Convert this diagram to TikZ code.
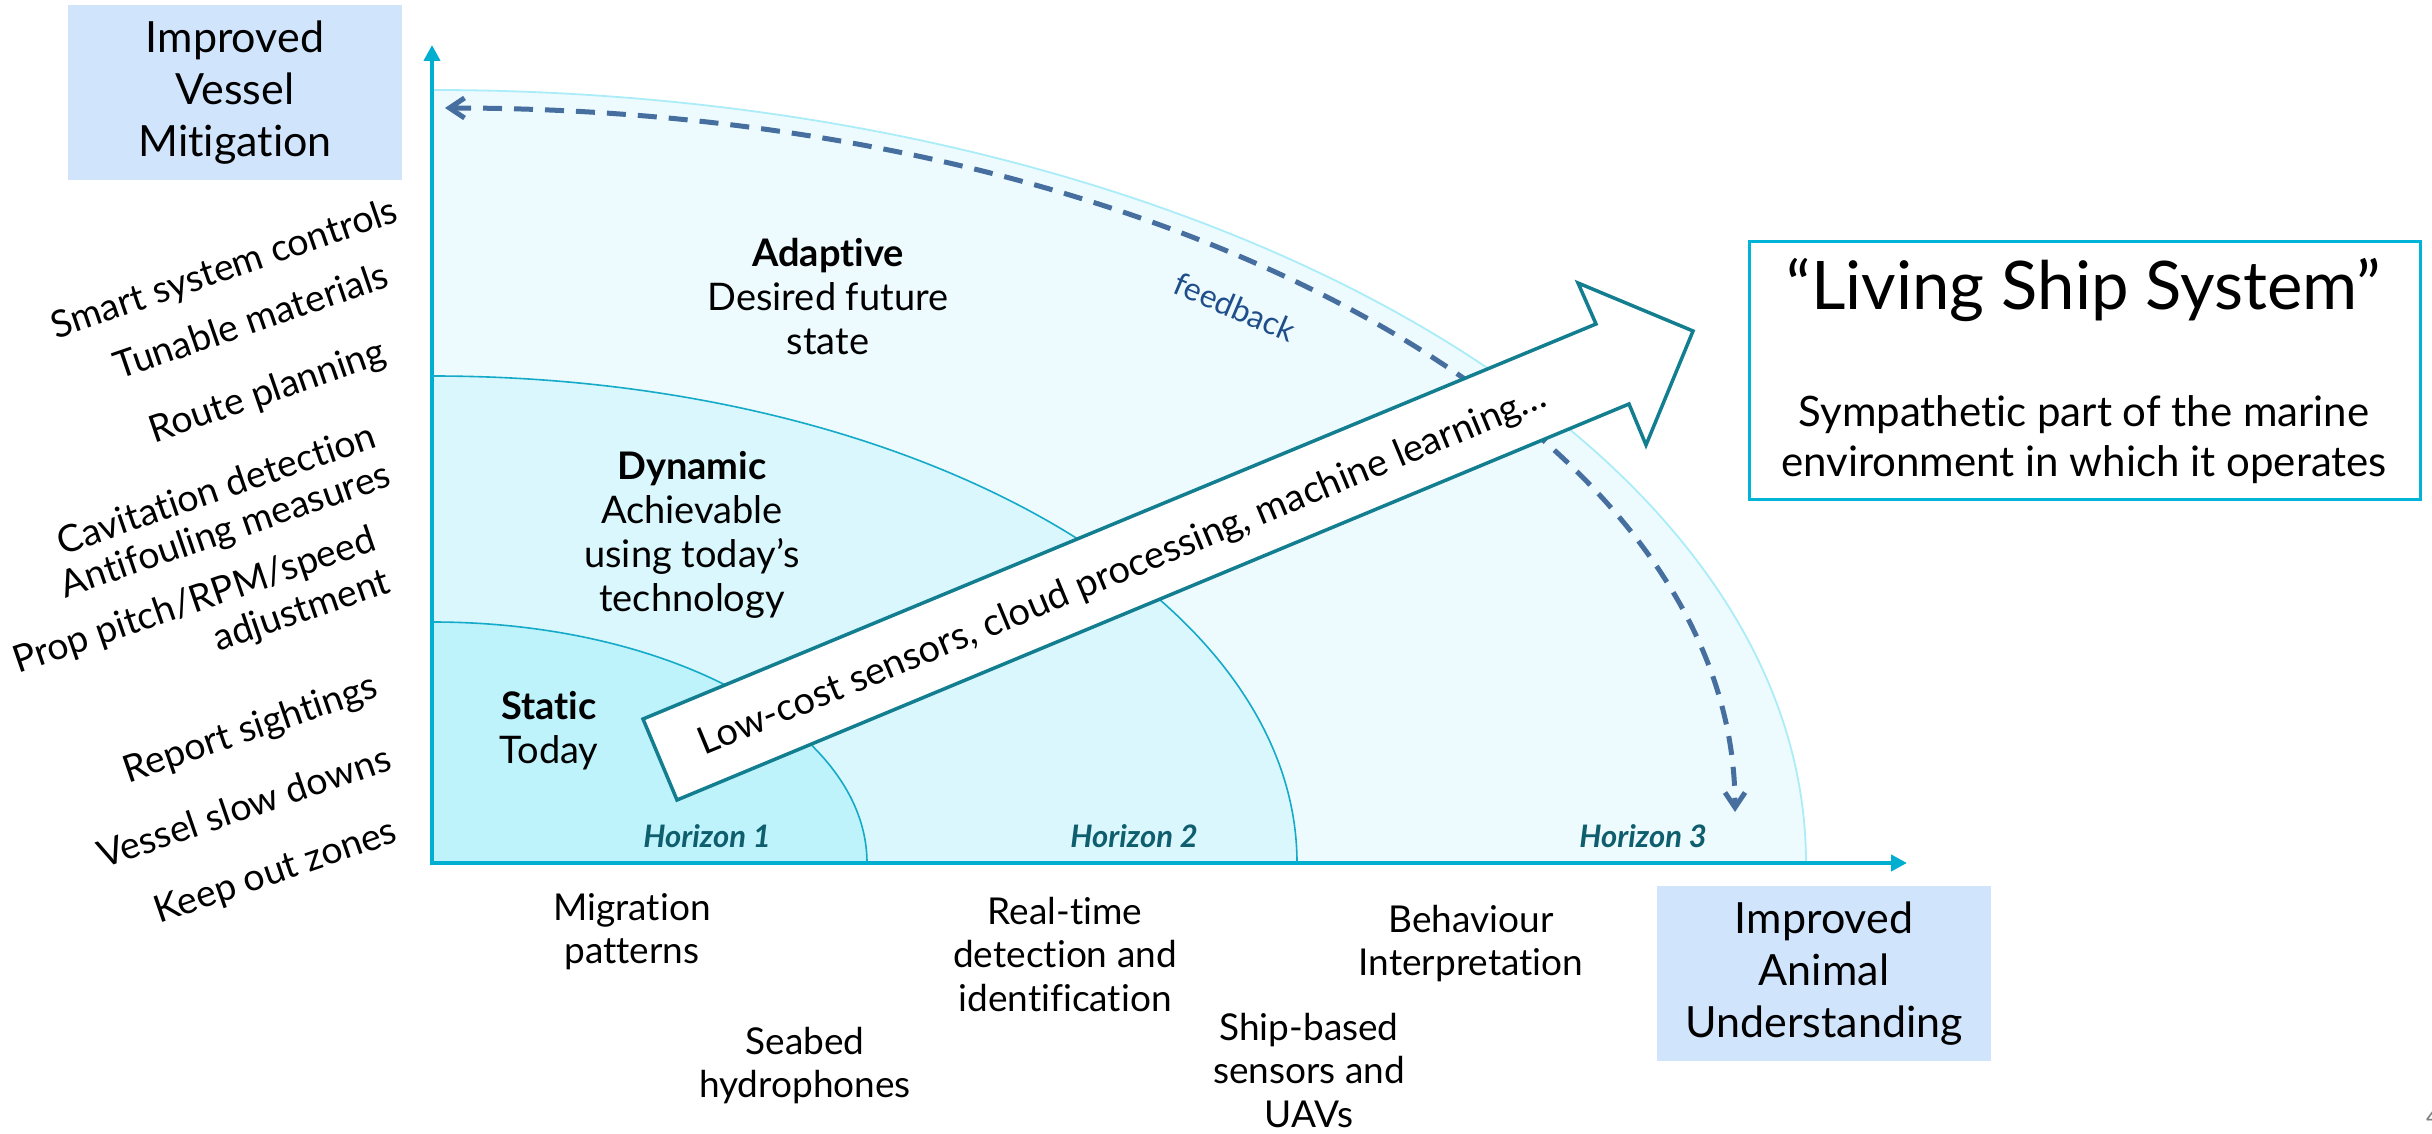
\documentclass[tikz,border=0pt]{standalone}
\usepackage{fontspec}
\setmainfont{Lato}[Ligatures=NoCommon]
\usetikzlibrary{arrows.meta}
\definecolor{axiscol}{RGB}{0,174,207}
\definecolor{fillS}{RGB}{190,243,252}
\definecolor{fillD}{RGB}{218,247,253}
\definecolor{fillA}{RGB}{237,251,254}
\definecolor{arcS}{RGB}{20,170,200}
\definecolor{arcA}{RGB}{170,236,248}
\definecolor{boxblue}{RGB}{208,228,252}
\definecolor{arrowcol}{RGB}{19,126,143}
\definecolor{dashcol}{RGB}{70,110,158}
\definecolor{fbcol}{RGB}{31,78,138}
\definecolor{horcol}{RGB}{14,94,110}
\definecolor{lsscol}{RGB}{0,180,216}
\begin{document}
\begin{tikzpicture}[x=1pt,y=1pt,
  axisline/.style={line width=4.5pt, draw=axiscol, line join=miter,
    {Triangle[length=16pt,width=16pt]}-{Triangle[length=16pt,width=16pt]}},
  zonearc/.style={line width=1.6pt, draw=arcS},
  goalbox/.style={fill=boxblue, minimum width=334pt, minimum height=175pt,
    align=center, inner sep=0pt, font=\fontsize{43}{52}\selectfont},
  mitig/.style={rotate=19, align=right, inner sep=0pt, font=\fontsize{37.5}{44}\selectfont},
  understand/.style={anchor=north, align=center, inner sep=0pt, font=\fontsize{37}{43.5}\selectfont},
  zonetext/.style={anchor=north, align=center, inner sep=0pt, font=\fontsize{38}{44}\selectfont},
  horizon/.style={anchor=base, text=horcol, font=\fontsize{31}{36}\selectfont\bfseries\itshape},
  feedbackline/.style={draw=dashcol, line width=5pt, dash pattern=on 19pt off 12pt,
    {Straight Barb[length=15pt,width=20pt]}-{Straight Barb[length=15pt,width=20pt]}},
  techarrow/.style={draw=arrowcol, fill=white, line width=3.5pt, line join=miter},
  ]
\useasboundingbox (0,0) rectangle (2432,1133);

% axes frame
\coordinate (origin) at (432,270);
\coordinate (ytop) at (432,1088);
\coordinate (xend) at (1907,270);

% the three zones, outermost first
\fill[fillA] (origin) -- (432,1043) arc[start angle=90,end angle=0,x radius=1374pt,y radius=773pt] -- cycle;
\fill[fillD] (origin) -- (432,757) arc[start angle=90,end angle=0,x radius=865pt,y radius=487pt] -- cycle;
\fill[fillS] (origin) -- (432,511) arc[start angle=90,end angle=0,x radius=435pt,y radius=241pt] -- cycle;
\draw[line width=1.8pt, draw=arcA] (432,1043) arc[start angle=90,end angle=0,x radius=1374pt,y radius=773pt];
\draw[zonearc] (432,757) arc[start angle=90,end angle=0,x radius=865pt,y radius=487pt];
\draw[zonearc] (432,511) arc[start angle=90,end angle=0,x radius=435pt,y radius=241pt];

% axes
\draw[axisline] (ytop) -- (origin) -- (xend);

% feedback loop
\coordinate (fbstart) at (445,1025);
\draw[feedbackline] (fbstart) arc[start angle=90,end angle=0,x radius=1290pt,y radius=704pt];
\node[rotate=-23, text=fbcol, font=\fontsize{32}{38}\selectfont] (fb) at (1235,826) {feedback};

% technology arrow
\draw[techarrow] (643,414) -- (1596,809) -- (1578,850) -- (1693,802) -- (1646,688) -- (1629,729) -- (677,333) -- cycle;
\node[rotate=22.5, anchor=base, inner sep=0pt, font=\fontsize{38}{44}\selectfont] (tech) at (1127,552)
  {Low-cost sensors, cloud processing, machine learning…};

% zone labels
\node[zonetext] (adaptive) at (828,895) {\textbf{Adaptive}\\Desired future\\state};
\node[zonetext] (dynamic) at (692,682) {\textbf{Dynamic}\\Achievable\\using today’s\\technology};
\node[zonetext] (static) at (549,442) {\textbf{Static}\\Today};
\node[horizon] (h1) at (707,286) {Horizon 1};
\node[horizon] (h2) at (1134,286) {Horizon 2};
\node[horizon] (h3) at (1643,286) {Horizon 3};

% axis titles
\node[goalbox] (vessel) at (235,1040.5) {Improved\\Vessel\\Mitigation};
\node[goalbox] (animal) at (1824,159.5) {Improved\\Animal\\Understanding};

% goal box
\node[draw=lsscol, line width=3pt, fill=white, minimum width=671pt, minimum height=258pt, inner sep=0pt] (lss) at (2084.5,762) {};
\node[anchor=base, inner sep=0pt, font=\fontsize{67}{78}\selectfont] (lsstitle) at (2084,823) {“Living Ship System”};
\node[anchor=north, align=center, inner sep=0pt, font=\fontsize{42}{50}\selectfont] (lsssub) at (2084,738)
  {Sympathetic part of the marine\\environment in which it operates};

% mitigation measures
\node[mitig] (smart) at (225,863) {Smart system controls};
\node[mitig] (tunable) at (251,813) {Tunable materials};
\node[mitig] (route) at (268,740) {Route planning};
\node[mitig] (cavit) at (216,645) {Cavitation detection};
\node[mitig] (antifoul) at (226,601) {Antifouling measures};
\node[mitig] (prop) at (202,510) {Prop pitch/RPM/speed\\adjustment};
\node[mitig] (report) at (251,403) {Report sightings};
\node[mitig] (slow) at (244,327) {Vessel slow downs};
\node[mitig] (keepout) at (276,260) {Keep out zones};

% understanding measures
\node[understand] (migr) at (632,240) {Migration\\patterns};
\node[understand] (seabed) at (805,106) {Seabed\\hydrophones};
\node[understand] (realtime) at (1065,236) {Real-time\\detection and\\identification};
\node[understand] (shipbased) at (1309,120) {Ship-based\\sensors and\\UAVs};
\node[understand] (behav) at (1471,228) {Behaviour\\Interpretation};

% page number
\node[anchor=base west, inner sep=0pt, text=gray, font=\fontsize{24}{28}\selectfont] (pagenum) at (2426,8) {4};
\end{tikzpicture}
\end{document}
